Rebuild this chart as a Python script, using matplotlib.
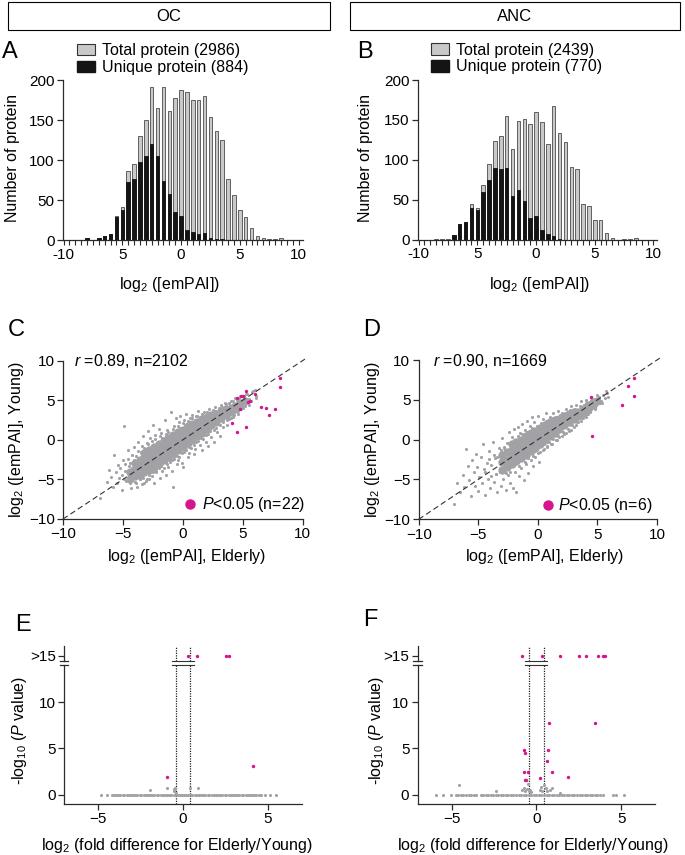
import matplotlib
matplotlib.use('Agg')
import matplotlib.pyplot as plt
from matplotlib.patches import Patch, Rectangle
from matplotlib.lines import Line2D
import matplotlib.transforms as mtransforms

plt.rcParams['font.family'] = ['Liberation Sans', 'DejaVu Sans']
plt.rcParams['mathtext.fontset'] = 'custom'
plt.rcParams['mathtext.rm'] = 'Liberation Sans'
plt.rcParams['mathtext.it'] = 'Liberation Sans:italic'
plt.rcParams['mathtext.bf'] = 'Liberation Sans:bold'

# ---------------- data ----------------
hist_bins = [-9.0, -8.5, -8.0, -7.5, -7.0, -6.5, -6.0, -5.5, -5.0, -4.5, -4.0, -3.5, -3.0,
             -2.5, -2.0, -1.5, -1.0, -0.5, 0.0, 0.5, 1.0, 1.5, 2.0, 2.5, 3.0, 3.5, 4.0,
             4.5, 5.0, 5.5, 6.0, 6.5, 7.0, 7.5, 8.0, 8.5, 9.0]
A_total = [0, 0, 2, 0, 2, 5, 8, 30, 42, 86, 95, 130, 151, 192, 165, 192, 162, 178, 188,
           185, 175, 175, 181, 154, 137, 125, 77, 56, 38, 29, 15, 5, 2, 1, 1, 2, 0]
A_unique = [0, 0, 2, 0, 2, 5, 8, 29, 37, 73, 76, 98, 105, 120, 105, 74, 58, 35, 30,
            13, 10, 7, 9, 3, 1, 1, 0, 0, 0, 0, 0, 0, 0, 0, 0, 0, 0]
B_total = [0, 1, 1, 1, 6, 20, 22, 44, 39, 68, 95, 124, 130, 155, 114, 148, 151, 145, 160,
           147, 120, 167, 133, 122, 91, 88, 44, 42, 25, 25, 8, 2, 0, 1, 1, 2, 0]
B_unique = [0, 0, 0, 0, 6, 20, 22, 39, 37, 59, 74, 90, 89, 90, 54, 62, 48, 27, 29,
            12, 7, 4, 1, 0, 0, 0, 0, 0, 0, 0, 0, 0, 0, 0, 0, 0, 0]
A_legend = ['Total protein (2986)', 'Unique protein (884)']
B_legend = ['Total protein (2439)', 'Unique protein (770)']
hist_tick_vals = [-10, -5, 0, 5, 10]
hist_tick_labels = ['-10', '5', '0', '5', '10']

# Scatter C (OC): dense core, fringe and outlying points (log2 emPAI elderly, young)
C_core_x = [-4.4, -4.4, -4.0, -4.0, -4.0, -3.6, -3.6, -3.6, -3.2, -3.2, -3.2, -3.2,
            -2.8, -2.8, -2.8, -2.8, -2.4, -2.4, -2.4, -2.4, -2.0, -2.0, -2.0, -2.0,
            -1.6, -1.6, -1.6, -1.6, -1.2, -1.2, -1.2, -1.2, -0.8, -0.8, -0.8, -0.8,
            -0.4, -0.4, -0.4, -0.4, 0.0, 0.0, 0.0, 0.0, 0.4, 0.4, 0.4, 0.4,
            0.8, 0.8, 0.8, 0.8, 1.2, 1.2, 1.2, 1.2, 1.6, 1.6, 1.6, 1.6, 2.0, 2.0, 2.0, 2.0,
            2.4, 2.4, 2.4, 2.4, 2.8, 2.8, 2.8, 3.2, 3.2, 3.2, 3.6, 3.6, 3.6,
            4.0, 4.0, 4.4, 4.4, 4.8, 4.8, 5.2]
C_core_y = [-5.0, -4.0, -4.6, -3.7, -2.9, -4.4, -3.4, -2.5, -4.1, -3.2, -2.3, -1.7,
            -3.8, -2.9, -2.0, -1.3, -3.4, -2.6, -1.7, -0.9, -3.0, -2.2, -1.3, -0.5,
            -2.6, -1.8, -1.0, -0.2, -2.2, -1.4, -0.6, 0.2, -1.8, -1.0, -0.2, 0.6,
            -1.3, -0.5, 0.3, 1.0, -0.9, -0.1, 0.6, 1.3, -0.4, 0.3, 1.0, 1.7,
            0.0, 0.7, 1.3, 2.0, 0.5, 1.1, 1.7, 2.3, 0.9, 1.5, 2.1, 2.6, 1.4, 2.0, 2.5, 2.9,
            1.9, 2.4, 2.9, 3.2, 2.3, 2.8, 3.3, 2.7, 3.2, 3.6, 3.1, 3.5, 3.9,
            3.5, 4.0, 3.9, 4.3, 4.4, 4.7, 4.9]
C_x = [-6.9, -6.3, -6.2, -6.0, -5.8, -5.7, -5.6, -5.5, -5.4, -5.3, -5.1, -5.0, -4.9, -4.8,
       -4.7, -4.6, -4.5, -4.4, -4.3, -4.2, -4.1, -4.0, -3.9, -3.8, -3.7, -3.6, -3.5, -3.4,
       -3.3, -3.2, -3.1, -3.0, -2.9, -2.8, -2.7, -2.6, -2.5, -2.4, -2.3, -2.2, -2.0, -1.9,
       -1.8, -1.7, -1.5, -1.4, -1.3, -1.2, -1.0, -0.9, -0.8, -0.7, -0.6, -0.5, -0.4, -0.3,
       -0.2, -0.1, 0.0, 0.1, 0.3, 0.4, 0.5, 0.6, 0.8, 0.9, 1.0, 1.1, 1.3, 1.4, 1.6, 1.8,
       1.9, 2.1, 2.2, 2.4, 2.6, 2.7, 2.9, 3.1, 3.2, 3.4, 3.5, 3.7, 3.9, 4.0, 4.2, 4.4,
       4.6, 4.8, 5.0, 5.3, 5.5, 5.8, 6.0, 6.1,
       -4.6, -4.4, -4.2, -3.9, -3.7, -3.6, -3.4, -3.3, -3.1, -3.0, -2.9, -2.8, -2.6, -2.5,
       -2.3, -2.2, -2.1, -2.0, -1.9, -1.8, -1.7, -1.6, -1.4, -1.3, -1.2, -1.1, -1.0, -0.9,
       -0.8, -0.7, -0.6, -0.5, -0.4, -0.3, -0.2, -0.1, 0.0, 0.1, 0.2, 0.3, 0.4, 0.5, 0.6,
       0.7, 0.8, 0.9, 1.0, 1.1, 1.2, 1.3, 1.4, 1.5, 1.6, 1.7, 1.8, 1.9, 2.0, 2.1, 2.2, 2.3,
       2.5, 2.6, 2.7, 2.8, 3.0, 3.1, 3.3, 3.4, 3.6, 3.7, 3.9, 4.0, 4.2, 4.3, 4.5, 4.6, 4.7,
       4.9, 5.1, 5.2, 5.4, 5.5, 5.7, 5.9, 6.1,
       -5.2, -5.1, -4.9, -4.8, -4.5, -4.3, -4.1, -3.9, -3.8, -3.5, -3.4, -3.2, -2.9, -2.7,
       -2.5]
C_y = [-7.4, -5.3, -3.8, -4.7, -5.9, -1.9, -4.1, -5.4, -3.2, -4.8, -6.3, -2.6, 1.75, -3.9,
       -5.2, -1.3, -4.4, -2.9, -6.1, -3.5, -0.9, -5.3, -2.1, -5.9, -0.3, -4.9, -1.5, -5.6,
       0.5, -1.0, -5.2, -0.4, 1.1, -5.0, 0.2, -4.6, 1.9, -5.5, 0.6, -4.1, 1.4, -4.8,
       0.9, -3.9, 2.5, -4.4, 1.3, -3.4, 3.47, -3.9, -5.9, 1.8, 2.8, -3.0, -2.6, 2.2,
       3.0, -2.9, -3.4, 2.5, 3.3, -2.2, -1.6, 2.7, 3.2, -1.8, -1.2, 3.0, 3.6, -0.7, -1.3, 3.5,
       -0.3, -0.8, 3.9, 0.4, -0.3, 4.1, 1.0, 0.5, 4.4, 1.6, 4.7, 1.9, 2.6, 4.9, 2.9, 5.3,
       3.3, 5.6, 4.0, 5.8, 4.4, 6.0, 6.35, 5.3,
       -2.4, -5.5, -1.9, -5.4, -1.4, -5.0, -0.8, -4.8, -1.1, -4.9, -0.5, -4.4, -0.2, -4.1,
       0.1, -3.9, -0.4, -3.6, 0.5, -3.3, 0.2, -3.5, 0.8, -3.0, 1.0, -2.8, 0.4, -2.6,
       1.4, -2.4, 1.1, -2.0, 1.8, -2.2, 1.5, -1.7, 2.1, -1.5, 1.9, -1.3, 2.4, -0.9, 2.2,
       -1.0, 2.7, -0.6, 2.5, -0.3, 3.0, -0.2, 2.9, 0.2, 3.3, 0.1, 3.0, 0.6, 3.5, 0.8, 3.3, 1.1,
       3.8, 1.3, 3.6, 1.5, 4.0, 1.9, 4.2, 2.2, 4.5, 2.5, 4.7, 2.8, 4.9, 3.2, 5.0, 3.7, 5.3,
       3.9, 5.6, 4.3, 5.8, 5.2, 4.9, 6.2, 5.6,
       -3.6, -4.5, -5.0, -3.1, -3.3, -4.9, -2.6, -3.7, -4.6, -2.4, -3.9, -5.4, -3.2, -2.4,
       -3.4]
C_sig_x = [5.29, 4.84, 5.0, 4.5, 5.48, 5.62, 6.04, 4.78, 6.5, 6.93, 7.71, 7.24, 8.13, 8.08,
           4.09, 4.5, 5.26]
C_sig_y = [6.2, 5.58, 5.58, 5.24, 4.8, 4.95, 5.75, 3.85, 4.1, 3.98, 3.85, 3.2, 7.77, 6.63,
           2.17, 1.03, 1.58]

# Scatter D (ANC)
D_core_x = [-3.0, -3.0, -3.0, -2.6, -2.6, -2.6, -2.2, -2.2, -2.2, -2.2, -1.8, -1.8, -1.8, -1.8,
            -1.4, -1.4, -1.4, -1.4, -1.0, -1.0, -1.0, -1.0, -0.6, -0.6, -0.6, -0.6, -0.2, -0.2,
            -0.2, -0.2, 0.2, 0.2, 0.2, 0.2, 0.6, 0.6, 0.6, 0.6, 1.0, 1.0, 1.0, 1.0, 1.4, 1.4,
            1.4, 1.4, 1.8, 1.8, 1.8, 2.2, 2.2, 2.2, 2.6, 2.6, 2.6, 3.0, 3.0, 3.0,
            3.4, 3.4, 3.8, 3.8, 4.2, 4.2, 4.6, 4.6, 5.0]
D_core_y = [-3.8, -2.8, -1.9, -3.4, -2.5, -1.6, -3.1, -2.2, -1.3, -0.6, -2.7, -1.9, -1.0, -0.3,
            -2.3, -1.5, -0.7, 0.0, -1.9, -1.1, -0.3, 0.4, -1.4, -0.7, 0.1, 0.8, -1.0, -0.3,
            0.5, 1.1, -0.5, 0.2, 0.9, 1.4, -0.1, 0.6, 1.3, 1.8, 0.4, 1.0, 1.6, 2.2, 0.8, 1.4,
            2.0, 2.5, 1.3, 1.9, 2.6, 1.8, 2.3, 2.9, 2.2, 2.7, 3.2, 2.6, 3.0, 3.5,
            3.0, 3.5, 3.4, 3.9, 3.9, 4.3, 4.3, 4.7, 4.8]
D_x = [-7.0, -6.8, -6.5, -6.3, -6.2, -6.0, -5.9, -5.8, -5.6, -5.5, -5.4, -5.3, -5.2, -5.1,
       -5.0, -4.9, -4.8, -4.7, -4.6, -4.5, -4.4, -4.3, -4.2, -4.1, -4.0, -3.9, -3.8, -3.7,
       -3.6, -3.5, -3.4, -3.3, -3.2, -3.1, -3.0, -2.9, -2.8, -2.7, -2.6, -2.5, -2.4, -2.3,
       -2.2, -2.1, -2.0, -1.9, -1.8, -1.7, -1.6, -1.5, -1.4, -1.3, -1.2, -1.1, -1.0, -0.9,
       -0.8, -0.7, -0.6, -0.5, -0.4, -0.3, -0.2, 0.0, 0.1, 0.2, 0.4, 0.5, 0.7, 0.8, 1.0,
       1.1, 1.3, 1.5, 1.7, 1.8, 2.0, 2.2, 2.4, 2.6, 2.8, 3.0, 3.2, 3.4, 3.6, 3.8, 4.0,
       4.2, 4.5, 4.8, 5.0, 5.4, 5.7, 5.9,
       -4.4, -4.1, -3.9, -3.7, -3.5, -3.4, -3.2, -3.1, -2.9, -2.8, -2.7, -2.5, -2.4, -2.3,
       -2.1, -2.0, -1.9, -1.7, -1.6, -1.5, -1.3, -1.2, -1.1, -0.9, -0.8, -0.7, -0.5, -0.4,
       -0.3, -0.1, 0.0, 0.1, 0.3, 0.4, 0.5, 0.7, 0.8, 0.9, 1.1, 1.2, 1.3, 1.5, 1.6, 1.7,
       1.9, 2.0, 2.1, 2.3, 2.4, 2.5, 2.7, 2.8, 2.9, 3.1, 3.2, 3.3, 3.5, 3.6, 3.7, 3.9,
       4.0, 4.1, 4.3, 4.4, 4.5, 4.7, 4.8, 4.9, 5.1, 5.2, 5.3, 5.5, 5.6, 5.8]
D_y = [-8.1, -5.4, -6.6, -4.4, -6.0, -1.2, -3.3, -5.1, -7.1, -2.6, -4.0, -5.8, -1.8, -3.4,
       -6.4, -4.7, -2.2, -5.5, -0.6, -3.7, -6.9, -2.9, -4.9, -1.4, -6.1, -3.2, -0.3, -5.3,
       -2.3, -4.3, -6.6, -1.1, -3.6, -5.8, 0.2, -4.9, -1.0, -6.3, -0.4, -4.5, 0.9, -5.4,
       0.3, -6.1, 1.3, -4.0, -6.6, 1.6, -4.6, 0.8, -3.6, 2.0, -5.1, 1.2, -3.1, 2.4,
       -4.2, 1.7, -2.6, 2.9, -3.3, 2.2, -2.2, 3.0, -2.8, -1.6, 2.6, -1.2, 3.3, -0.9, 2.9,
       -0.5, 3.4, -0.1, 3.6, 0.3, 3.3, 0.7, 3.9, 1.1, 4.2, 1.6, 4.4, 2.2, 4.8, 2.7, 5.0,
       3.2, 5.3, 3.9, 5.6, 4.6, 6.1, 5.4,
       -4.1, -2.4, -4.6, -1.9, -4.3, -2.2, -4.1, -1.3, -3.7, -0.9, -4.2, -3.6, -0.4, -4.0,
       -3.2, -0.1, -2.9, 0.5, -3.3, -2.5, 0.7, -2.1, -2.8, 1.0, -2.3, -1.6, 1.4, -2.0,
       -1.4, 1.7, -1.7, -0.9, 2.1, -1.3, -0.6, 2.3, -0.8, -0.3, 2.7, -0.5, 0.1, 2.9, 0.0,
       0.5, 3.1, 0.4, 0.9, 3.4, 0.8, 1.3, 3.7, 1.2, 1.8, 3.9, 1.8, 2.2, 4.2, 2.3, 2.7, 4.4,
       2.9, 3.2, 4.6, 3.5, 3.8, 4.9, 4.0, 4.3, 5.3, 4.6, 4.9, 5.6, 5.2, 5.9]
D_sig_x = [4.46, 7.59, 8.07, 8.1, 7.09, 4.55]
D_sig_y = [5.4, 6.74, 7.7, 5.52, 4.31, 0.5]

# Volcano E (OC)
E_zero_x = [-4.8, -4.5, -4.2, -4.05, -3.95, -3.8, -3.7, -3.55, -3.45, -3.3, -3.2, -3.05, -2.95,
            -2.8, -2.7, -2.55, -2.45, -2.3, -2.2, -2.05, -1.95, -1.8, -1.7, -1.55, -1.45, -1.3,
            -1.2, -1.05, -0.95, -0.8, -0.7, -0.55, -0.45, -0.3, -0.2, -0.05, 0.05, 0.2, 0.3,
            0.45, 0.55, 0.7, 0.8, 0.95, 1.05, 1.2, 1.3, 1.45, 1.55, 1.7, 1.8, 1.95, 2.05, 2.2,
            2.3, 2.45, 2.55, 2.7, 2.8, 2.95, 3.05, 3.2, 3.3, 3.45, 3.55, 3.7, 3.8, 3.95, 4.05,
            4.2, 4.3, 4.45, 4.6, 4.82, 5.13, 5.47]
E_zero_y = [0.0] * len(E_zero_x)
E_gray_x = [-1.94, -0.95, -0.55, -0.52, -0.5, -0.4, 0.39, 0.87]
E_gray_y = [0.46, 0.75, 0.6, 0.4, 0.75, 0.2, 0.75, 0.75]
E_sig_x = [-0.95, 4.09]
E_sig_y = [1.9, 3.09]
E_top_x = [0.3, 0.83, 2.55, 2.7]

# Volcano F (ANC)
F_zero_x = [-5.94, -5.5, -5.05, -4.75, -4.6, -4.45, -4.3, -4.15, -4.0, -3.85, -3.7, -3.57,
            -3.27, -3.15, -3.0, -2.85, -2.7, -2.55, -2.4, -2.25, -2.1, -1.95, -1.8, -1.65,
            -1.5, -1.35, -1.2, -1.05, -0.9, -0.75, -0.6, -0.45, -0.3, -0.15, 0.0, 0.15, 0.3,
            0.45, 0.6, 0.75, 0.9, 1.05, 1.2, 1.35, 1.5, 1.65, 1.8, 1.95, 2.1, 2.25, 2.4, 2.55,
            2.7, 2.85, 3.0, 3.15, 3.3, 3.45, 3.6, 3.75, 3.96, 4.55, 4.71, 5.15]
F_zero_y = [0.0] * len(F_zero_x)
F_gray_x = [-4.56, -2.38, -0.85, -0.75, -0.65, -0.55, -0.5, -0.45, -0.35, -0.3, 0.2, 0.3,
            0.35, 0.45, 0.55, 0.65, 0.8, 0.9, 1.38]
F_gray_y = [1.0, 0.4, 0.55, 0.7, 0.35, 0.6, 1.2, 0.35, 0.5, 0.25, 0.5, 0.8, 0.4, 1.0, 0.7,
            0.45, 0.55, 0.75, 0.2]
F_sig_x = [0.73, 3.46, -0.74, -0.66, 0.67, 0.6, -0.74, -0.5, 0.93, 0.22, 1.84, -0.66, -0.6]
F_sig_y = [7.73, 7.73, 4.78, 4.5, 4.78, 3.63, 2.4, 2.4, 2.4, 1.75, 1.9, 1.57, 1.6]
F_top_x = [-0.86, 0.36, 1.38, 2.51, 2.93, 3.66, 3.96, 4.06]
fold_cut = [-0.43, 0.43]

# ---------------- style ----------------
W, H = 685, 855
fig = plt.figure(figsize=(W / 100, H / 100), dpi=100)
GRAY_BAR = '#c9c9c9'
BLACK_BAR = '#141414'
PT_GRAY = '#a2a2a6'
MAGENTA = '#d6148c'
SPINE = '#2b2b2b'
TICK_FS = 11
LAB_FS = 11.5


def add_ax(l, t, r, b):
    return fig.add_axes([l / W, 1 - b / H, (r - l) / W, (b - t) / H])


def ftext(x, y, s, **kw):
    fig.text(x / W, 1 - y / H, s, **kw)


def style(ax):
    for side in ['top', 'right']:
        ax.spines[side].set_visible(False)
    for side in ['left', 'bottom']:
        ax.spines[side].set_color(SPINE)
        ax.spines[side].set_linewidth(0.9)
    ax.tick_params(colors=SPINE, labelcolor='black', labelsize=TICK_FS, width=0.9,
                   length=4, pad=2)


# header boxes
for (l, r, s) in [(8, 330, 'OC'), (350, 680, 'ANC')]:
    fig.patches.append(Rectangle((l / W, 1 - 30 / H), (r - l) / W, 28 / H,
                                 transform=fig.transFigure, fill=False,
                                 edgecolor='black', linewidth=0.8))
    ftext((l + r) / 2, 16.5, s, ha='center', va='center', fontsize=12)


def histogram(l, t, r, b, total, unique, legend_labels, xlim, leg_x):
    ax = add_ax(l, t, r, b)
    style(ax)
    ax.bar(hist_bins, total, width=0.3, color=GRAY_BAR, edgecolor='#4a4a4a', linewidth=0.6)
    ax.bar(hist_bins, unique, width=0.3, color=BLACK_BAR, edgecolor=BLACK_BAR, linewidth=0.6)
    ax.set_xlim(*xlim)
    ax.set_ylim(0, 200)
    ax.set_yticks([0, 50, 100, 150, 200])
    ax.set_xticks(hist_tick_vals)
    ax.set_xticklabels(hist_tick_labels)
    ax.set_xticks([v / 2 for v in range(-20, 21)], minor=True)
    ax.tick_params(axis='x', which='both', length=3.5, width=0.8, colors=SPINE,
                   labelcolor='black')
    handles = [Patch(facecolor=GRAY_BAR, edgecolor='#333333', linewidth=0.8),
               Patch(facecolor=BLACK_BAR, edgecolor=BLACK_BAR)]
    ax.legend(handles, legend_labels, loc='upper left', bbox_to_anchor=(leg_x, 1.235),
              frameon=False, fontsize=LAB_FS, handlelength=1.1, handleheight=0.75,
              handletextpad=0.45, labelspacing=0.12, borderpad=0, borderaxespad=0)
    return ax


histogram(63, 80.5, 303, 240, A_total, A_unique, A_legend, (-10.05, 10.38), 0.06)
histogram(418, 80, 657, 239.5, B_total, B_unique, B_legend, (-10.05, 10.3), 0.055)


def scatter(l, t, r, b, cx, cy, x, y, sx, sy):
    ax = add_ax(l, t, r, b)
    style(ax)
    ax.set_xlim(-10, 10)
    ax.set_ylim(-10, 10)
    ax.set_xticks([-10, -5, 0, 5, 10])
    ax.set_yticks([-10, -5, 0, 5, 10])
    ax.scatter(cx, cy, s=36, color=PT_GRAY, linewidths=0, zorder=2)
    ax.scatter(x, y, s=5, color=PT_GRAY, linewidths=0, zorder=2)
    ax.plot([-10, 10.3], [-10, 10.3], ls=(0, (5, 3)), color='#333333', lw=0.8,
            clip_on=False, zorder=3)
    ax.scatter(sx, sy, s=6, color=MAGENTA, linewidths=0, zorder=4)
    return ax


scatter(63, 360.7, 302.5, 519, C_core_x, C_core_y, C_x, C_y, C_sig_x, C_sig_y)
scatter(418.7, 360, 657, 519.3, D_core_x, D_core_y, D_x, D_y, D_sig_x, D_sig_y)

# annotations of scatter panels
ftext(74, 361, r'$r$ =0.89, n=2102', ha='left', va='center', fontsize=LAB_FS)
ftext(433, 361, r'$r$ =0.90, n=1669', ha='left', va='center', fontsize=LAB_FS)
for (cx, cy, tx, s) in [(190, 504.5, 202, r'$P$<0.05 (n=22)'), (547.5, 505, 558, r'$P$<0.05 (n=6)')]:
    fig.add_artist(Line2D([cx / W], [1 - cy / H], marker='o', markersize=6.5, color=MAGENTA,
                          transform=fig.transFigure, linestyle='none'))
    ftext(tx, cy, s, ha='left', va='center', fontsize=LAB_FS)


def volcano(l, r, zx, zy, gx, gy, sx, sy, tx):
    axl = add_ax(l, 665, r, 803.5)
    axu = add_ax(l, 645.7, r, 661)
    style(axl)
    style(axu)
    axu.spines['bottom'].set_visible(False)
    axl.set_xlim(-7, 7)
    axl.set_ylim(-0.95, 14)
    axu.set_xlim(-7, 7)
    axu.set_ylim(14.6, 15.75)
    axl.set_xticks([-5, 0, 5])
    axl.set_yticks([0, 5, 10])
    axu.set_xticks([])
    axu.set_yticks([15])
    axu.set_yticklabels(['>15'])
    for ax in (axl, axu):
        for v in fold_cut:
            ax.axvline(v, color='#222222', lw=0.9, ls=(0, (1, 1)), zorder=1)
    axl.scatter(zx, zy, s=5, color=PT_GRAY, linewidths=0, zorder=2, clip_on=False)
    axl.scatter(gx, gy, s=5, color=PT_GRAY, linewidths=0, zorder=2)
    axl.scatter(sx, sy, s=6, color=MAGENTA, linewidths=0, zorder=3)
    axu.scatter(tx, [15] * len(tx), s=6, color=MAGENTA, linewidths=0, zorder=3, clip_on=False)
    # break marks
    tu = mtransforms.blended_transform_factory(axu.transData, axu.transAxes)
    tl = mtransforms.blended_transform_factory(axl.transData, axl.transAxes)
    axu.plot([-0.65, 0.63], [0, 0], transform=tu, color='#333333', lw=0.8, clip_on=False)
    axl.plot([-0.65, 0.63], [1, 1], transform=tl, color='#333333', lw=0.8, clip_on=False)
    axu.plot([-0.018, 0.018], [0, 0], transform=axu.transAxes, color=SPINE, lw=0.9, clip_on=False)
    axl.plot([-0.018, 0.018], [1, 1], transform=axl.transAxes, color=SPINE, lw=0.9, clip_on=False)
    return axl, axu


volcano(64, 302, E_zero_x, E_zero_y, E_gray_x, E_gray_y, E_sig_x, E_sig_y, E_top_x)
volcano(417.7, 655, F_zero_x, F_zero_y, F_gray_x, F_gray_y, F_sig_x, F_sig_y, F_top_x)

# axis labels
ylab_kw = dict(ha='center', va='center', rotation=90, fontsize=LAB_FS)
xlab_kw = dict(ha='center', va='center', fontsize=LAB_FS)
ftext(12, 158, 'Number of protein', **ylab_kw)
ftext(366, 158, 'Number of protein', **ylab_kw)
ftext(170, 285, r'log$_2$ ([emPAI])', **xlab_kw)
ftext(540, 285, r'log$_2$ ([emPAI])', **xlab_kw)
ftext(17, 440, r'log$_2$ ([emPAI], Young)', **ylab_kw)
ftext(372, 440, r'log$_2$ ([emPAI], Young)', **ylab_kw)
ftext(187, 557, r'log$_2$ ([emPAI], Elderly)', **xlab_kw)
ftext(545, 557, r'log$_2$ ([emPAI], Elderly)', **xlab_kw)
ftext(20, 730, r'-log$_{10}$ ($P$ value)', **ylab_kw)
ftext(377, 730, r'-log$_{10}$ ($P$ value)', **ylab_kw)
ftext(177, 845, r'log$_2$ (fold difference for Elderly/Young)', **xlab_kw)
ftext(533, 845, r'log$_2$ (fold difference for Elderly/Young)', **xlab_kw)

# panel letters
for (x, y, s) in [(2, 52, 'A'), (357, 52, 'B'), (8, 330, 'C'), (363, 330, 'D'),
                  (15, 625, 'E'), (363, 620, 'F')]:
    ftext(x, y, s, ha='left', va='center', fontsize=17)

fig.savefig('out.png', dpi=100)
